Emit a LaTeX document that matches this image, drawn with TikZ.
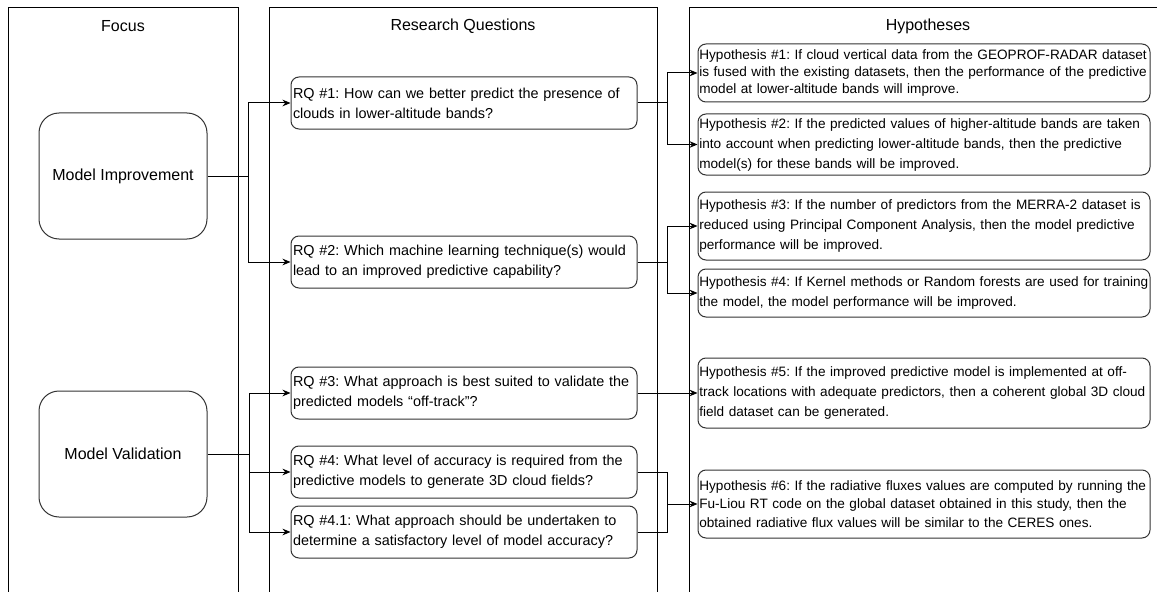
\documentclass[tikz,border=0pt]{standalone}
\usepackage{fontspec}
\setmainfont{Liberation Sans}
\frenchspacing
\usetikzlibrary{arrows.meta}
\tikzset{
    lane/.style={draw=black, line width=0.75pt},
    title/.style={font=\fontsize{12pt}{14pt}\selectfont},
    focus/.style={draw=black!80, line width=0.75pt, rounded corners=15pt, minimum width=126pt, minimum height=94.5pt, font=\fontsize{12pt}{14pt}\selectfont},
    rq/.style={draw=black!80, line width=0.75pt, rounded corners=6pt, inner xsep=1.5pt, inner ysep=0pt, text width=256.5pt, minimum height=39pt, align=left, font=\fontsize{10.8pt}{15pt}\selectfont},
    hyp/.style={rq, text width=337pt, inner xsep=1pt, font=\fontsize{10.2pt}{15pt}\selectfont},
    wire/.style={draw=black, line width=0.75pt},
    link/.style={wire, -{Stealth[length=6pt,width=5pt]}},
}
\begin{document}
\begin{tikzpicture}[x=0.75pt, y=-0.75pt]
        \useasboundingbox (0,0) rectangle (1157,592);

        \draw[lane] (8,600) -- (8,8) -- (238,8) -- (238,600);
        \draw[lane] (269,600) -- (269,8) -- (657,8) -- (657,600);
        \draw[lane] (689,600) -- (689,8) -- (1170,8);

        \node[title] (Focus) at (123,26) {Focus};
        \node[title] (Questions) at (463,26) {Research Questions};
        \node[title] (Hypotheses) at (928,26) {Hypotheses};

        \node[focus] (Improvement) at (123,176) {Model Improvement};
        \node[focus] (Validation) at (123,454) {Model Validation};

        \node[rq] (RQ1) at (464,103) {RQ \#1: How can we better predict the presence of\\clouds in lower-altitude bands?};
        \node[rq] (RQ2) at (464,262) {RQ \#2: Which machine learning technique(s) would\\lead to an improved predictive capability?};
        \node[rq] (RQ3) at (464,393) {RQ \#3: What approach is best suited to validate the\\predicted models “off-track”?};
        \node[rq] (RQ4) at (464,472) {RQ \#4: What level of accuracy is required from the\\predictive models to generate 3D cloud fields?};
        \node[rq] (RQ41) at (464,532) {RQ \#4.1: What approach should be undertaken to\\determine a satisfactory level of model accuracy?};

        \node[hyp, minimum height=43.5pt, font=\fontsize{10.2pt}{12.5pt}\selectfont] (H1) at (924,73) {Hypothesis \#1: If cloud vertical data from the GEOPROF-RADAR dataset\\is fused with the existing datasets, then the performance of the predictive\\model at lower-altitude bands will improve.};
        \node[hyp, minimum height=45.75pt] (H2) at (924,144.5) {Hypothesis \#2: If the predicted values of higher-altitude bands are taken\\into account when predicting lower-altitude bands, then the predictive\\model(s) for these bands will be improved.};
        \node[hyp, minimum height=51pt] (H3) at (924,226) {Hypothesis \#3: If the number of predictors from the MERRA-2 dataset is\\reduced using Principal Component Analysis, then the model predictive\\performance will be improved.};
        \node[hyp, minimum height=36pt] (H4) at (924,293) {Hypothesis \#4: If Kernel methods or Random forests are used for training\\the model, the model performance will be improved.};
        \node[hyp, minimum height=52.5pt] (H5) at (924,393) {Hypothesis \#5: If the improved predictive model is implemented at off-\\track locations with adequate predictors, then a coherent global 3D cloud\\field dataset can be generated.};
        \node[hyp, minimum height=51pt, font=\fontsize{10.2pt}{14pt}\selectfont] (H6) at (924,504) {Hypothesis \#6: If the radiative fluxes values are computed by running the\\Fu-Liou RT code on the global dataset obtained in this study, then the\\obtained radiative flux values will be similar to the CERES ones.};

        \coordinate (jImprovement) at (248,176);
        \coordinate (jValidation) at (249,454);
        \coordinate (jRQ1) at (667,103);
        \coordinate (jRQ2) at (667,262);
        \coordinate (jRQ4) at (667,504);

        \draw[wire] (Improvement.east) -- (jImprovement);
        \draw[link] (jImprovement) |- (RQ1.west);
        \draw[link] (jImprovement) |- (RQ2.west);
        \draw[wire] (Validation.east) -- (jValidation);
        \draw[link] (jValidation) |- (RQ3.west);
        \draw[link] (jValidation) |- (RQ4.west);
        \draw[link] (jValidation) |- (RQ41.west);

        \draw[wire] (RQ1.east) -- (jRQ1);
        \draw[link] (jRQ1) |- (H1.west);
        \draw[link] (jRQ1) |- (H2.west);
        \draw[wire] (RQ2.east) -- (jRQ2);
        \draw[link] (jRQ2) |- (H3.west);
        \draw[link] (jRQ2) |- (H4.west);
        \draw[link] (RQ3.east) -- (H5.west);
        \draw[wire] (RQ4.east) -| (jRQ4);
        \draw[wire] (RQ41.east) -| (jRQ4);
        \draw[link] (jRQ4) -- (H6.west);
    \end{tikzpicture}
\end{document}
